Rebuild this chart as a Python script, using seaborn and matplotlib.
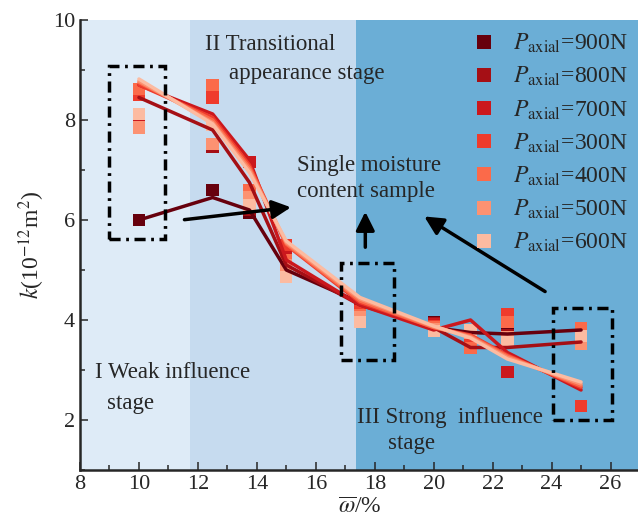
import numpy as np
import pandas as pd
import matplotlib
matplotlib.use('Agg')
import matplotlib.pyplot as plt
import matplotlib.patches as patches
import seaborn as sns

# moisture content (x) and load labels
omega = [10, 12.5, 13.75, 15, 17.5, 20, 21.25, 22.5, 25]
loads = ['900N', '800N', '700N', '300N', '400N', '500N', '600N']
colors = ['#67000d', '#a50f15', '#cb181d', '#ef3b2c', '#fb6a4a', '#fc9272', '#fcbba1']

# single sample points (squares)
pts_900 = [6.0, 6.6, 6.15, 4.95, 4.3, 3.96, 3.5, 3.8, 3.8]
pts_800 = [7.93, 7.46, 6.2, 5.0, 4.25, 3.93, 3.48, 3.7, 3.58]
pts_700 = [7.9, 8.55, 7.16, 5.45, 4.2, 3.92, 3.55, 2.96, 3.72]
pts_300 = [8.5, 8.45, 6.35, 5.5, 4.18, 3.88, 3.62, 4.12, 2.28]
pts_400 = [8.62, 8.7, 6.6, 5.2, 4.1, 3.85, 3.44, 3.96, 3.84]
pts_500 = [7.85, 7.52, 6.45, 5.1, 4.05, 3.82, 3.75, 3.65, 3.52]
pts_600 = [8.12, 7.9, 6.3, 4.86, 3.96, 3.78, 3.8, 3.56, 3.68]

# trend lines
line_900 = [6.0, 6.45, 6.2, 5.0, 4.35, 3.85, 3.75, 3.72, 3.8]
line_800 = [8.45, 7.8, 6.75, 5.1, 4.3, 3.85, 3.45, 3.45, 3.56]
line_700 = [8.7, 8.12, 7.2, 5.2, 4.3, 3.8, 4.0, 3.35, 2.6]
line_300 = [8.7, 8.05, 7.1, 5.5, 4.35, 3.85, 3.7, 3.3, 2.65]
line_400 = [8.75, 8.0, 7.05, 5.52, 4.38, 3.85, 3.68, 3.28, 2.68]
line_500 = [8.78, 7.95, 7.0, 5.55, 4.42, 3.87, 3.66, 3.25, 2.72]
line_600 = [8.82, 7.92, 6.95, 5.58, 4.45, 3.88, 3.64, 3.22, 2.76]

pts = [pts_900, pts_800, pts_700, pts_300, pts_400, pts_500, pts_600]
lines = [line_900, line_800, line_700, line_300, line_400, line_500, line_600]

labels = [r'$P_{\mathrm{axial}}$=' + l for l in loads]

rows_p, rows_l = [], []
for lab, p, ln in zip(labels, pts, lines):
    for x, yp, yl in zip(omega, p, ln):
        rows_p.append({'omega': x, 'k': yp, 'load': lab})
        rows_l.append({'omega': x, 'k': yl, 'load': lab})
df_pts = pd.DataFrame(rows_p)
df_line = pd.DataFrame(rows_l)

sns.set_style('ticks')
plt.rcParams['font.family'] = ['Liberation Serif', 'DejaVu Serif']
plt.rcParams['mathtext.fontset'] = 'stix'

fig = plt.figure(figsize=(6.38, 5.29), dpi=100)
ax = fig.add_axes([80/638, 59/529, 560/638, 450/529])

# stage backgrounds
ax.set_facecolor('#deebf7')
ax.axvspan(11.72, 17.35, color='#c6dbef', lw=0, zorder=0)
ax.axvspan(17.35, 27.1, color='#6baed6', lw=0, zorder=0)

sns.scatterplot(data=df_pts, x='omega', y='k', hue='load', hue_order=labels,
                palette=colors, marker='s', s=78, linewidth=0, ax=ax, zorder=2)
sns.lineplot(data=df_line, x='omega', y='k', hue='load', hue_order=labels,
             palette=colors, lw=2.5, estimator=None, sort=False, legend=False,
             ax=ax, zorder=3)

# dash-dot boxes
ls = (0, (3.2, 1.6, 0.8, 1.6))
for (x0, y0, w, h) in [(9.0, 5.62, 1.9, 3.46), (16.85, 3.2, 1.8, 1.95), (24.05, 2.0, 2.0, 2.25)]:
    ax.add_patch(patches.Rectangle((x0, y0), w, h, fill=False, ec='black', lw=2.5,
                                   ls=ls, zorder=4))

# arrows
arr = dict(arrowstyle='-|>', lw=2.5, color='black', mutation_scale=28)
ax.annotate('', xy=(15.25, 6.26), xytext=(11.45, 6.0), arrowprops=arr, zorder=5)
ax.annotate('', xy=(17.68, 6.22), xytext=(17.68, 5.4), arrowprops=arr, zorder=5)
ax.annotate('', xy=(19.6, 6.1), xytext=(23.86, 4.54), arrowprops=arr, zorder=5)

fs = 16.5
ax.text(12.24, 9.5, 'II Transitional', fontsize=fs, va='center')
ax.text(13.06, 8.92, 'appearance stage', fontsize=fs, va='center')
ax.text(15.37, 7.1, 'Single moisture', fontsize=fs, va='center')
ax.text(15.37, 6.56, 'content sample', fontsize=fs, va='center')
ax.text(8.5, 2.94, 'I Weak influence', fontsize=fs, va='center')
ax.text(8.92, 2.34, 'stage', fontsize=fs, va='center')
ax.text(17.4, 2.06, 'III Strong  influence', fontsize=fs, va='center')
ax.text(18.46, 1.52, 'stage', fontsize=fs, va='center')

ax.set_xlim(8, 27.0)
ax.set_ylim(1, 10)
ax.set_xticks(np.arange(8, 27, 2))
ax.set_xticks(np.arange(9, 27, 2), minor=True)
ax.set_yticks([2, 4, 6, 8, 10])
ax.set_yticks([1, 3, 5, 7, 9], minor=True)
ax.tick_params(which='both', direction='in', labelsize=16, width=1.1)
ax.tick_params(which='major', length=6)
ax.tick_params(which='minor', length=3.5)
sns.despine(ax=ax)
for s in ['left', 'bottom']:
    ax.spines[s].set_linewidth(1.8)

ax.set_xlabel(r'$\overline{\omega}$/%', fontsize=17, labelpad=2)
ax.set_ylabel(r'$k$(10$^{-12}$m$^2$)', fontsize=17, labelpad=4)

h, l = ax.get_legend_handles_labels()
ax.legend(h, l, loc='upper right', bbox_to_anchor=(1.0, 1.0), frameon=False,
          fontsize=17, handletextpad=0.75, labelspacing=0.42, borderaxespad=0.1,
          handlelength=1.0, markerscale=1.1)

fig.savefig('out.png', dpi=100)
